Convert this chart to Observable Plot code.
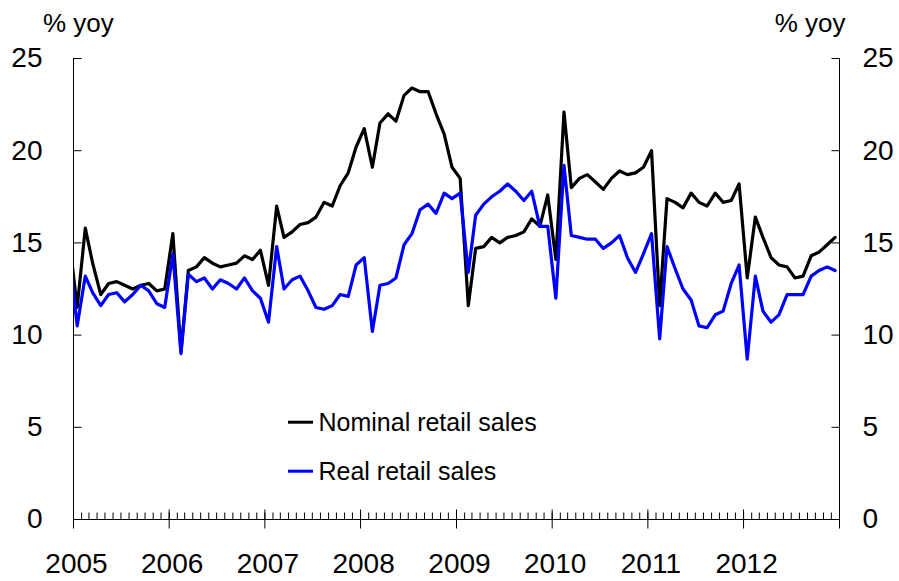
<!DOCTYPE html>
<html><head><meta charset="utf-8">
<script src="https://cdn.jsdelivr.net/npm/d3@7"></script>
<script src="https://cdn.jsdelivr.net/npm/@observablehq/plot@0.6"></script>
<style>body{margin:0;background:#fff} svg{display:block}</style>
</head><body><div id="chart"></div>
<script>
// Monthly data, Dec 2004 (clipped at left edge) through Dec 2012
const firstMonth = "2004-12-01";
const nominal = [
  15.3,
  11.5, 15.8, 13.9, 12.2, 12.8, 12.9, 12.7, 12.5, 12.7, 12.8, 12.4, 12.5,
  15.5, 9.1, 13.5, 13.7, 14.2, 13.9, 13.7, 13.8, 13.9, 14.3, 14.1, 14.6,
  12.7, 17.0, 15.3, 15.6, 16.0, 16.1, 16.4, 17.2, 17.0, 18.1, 18.8, 20.2,
  21.2, 19.1, 21.5, 22.0, 21.6, 23.0, 23.4, 23.2, 23.2, 22.0, 20.9, 19.1,
  18.5, 11.6, 14.7, 14.8, 15.3, 15.0, 15.3, 15.4, 15.6, 16.3, 15.9, 17.6,
  14.1, 22.1, 18.0, 18.5, 18.7, 18.3, 17.9, 18.5, 18.9, 18.7, 18.8, 19.1,
  20.0, 11.6, 17.4, 17.2, 16.9, 17.7, 17.2, 17.0, 17.7, 17.2, 17.3, 18.2,
  13.1, 16.4, 15.3, 14.2, 13.8, 13.7, 13.1, 13.2, 14.3, 14.5, 14.9, 15.3
];
const real = [
  14.4,
  10.5, 13.2, 12.3, 11.6, 12.2, 12.3, 11.8, 12.2, 12.7, 12.4, 11.7, 11.5,
  14.4, 9.0, 13.3, 12.9, 13.1, 12.5, 13.0, 12.8, 12.5, 13.1, 12.4, 12.0,
  10.7, 14.8, 12.5, 13.0, 13.2, 12.4, 11.5, 11.4, 11.6, 12.2, 12.1, 13.8,
  14.2, 10.2, 12.7, 12.8, 13.1, 14.9, 15.5, 16.8, 17.1, 16.6, 17.7, 17.4,
  17.7, 13.4, 16.5, 17.1, 17.5, 17.8, 18.2, 17.8, 17.3, 17.8, 15.9, 15.9,
  12.0, 19.2, 15.4, 15.3, 15.2, 15.2, 14.7, 15.0, 15.4, 14.2, 13.4, 14.4,
  15.5, 9.8, 14.8, 13.6, 12.5, 11.9, 10.5, 10.4, 11.1, 11.3, 12.8, 13.8,
  8.7, 13.2, 11.3, 10.7, 11.1, 12.2, 12.2, 12.2, 13.2, 13.5, 13.7, 13.5
];
const seriesNames = ["Nominal retail sales", "Real retail sales"];
const seriesColors = ["#000000", "#0000ff"];
const yTicks = [0, 5, 10, 15, 20, 25];
const yearLabels = ["2005", "2006", "2007", "2008", "2009", "2010", "2011", "2012"];
const yearTickYears = ["2005", "2006", "2007", "2008", "2009", "2010", "2011", "2012", "2013"];
const yLabel = "% yoy";

const xDomain = [new Date("2005-01-01"), new Date("2013-01-01")];
const months = d3.utcMonth.range(new Date(firstMonth), xDomain[1]);
const mid = (m) => d3.utcDay.offset(m, 14);
const nominalData = months.map((m, i) => ({date: mid(m), value: nominal[i]}));
const realData = months.map((m, i) => ({date: mid(m), value: real[i]}));
const yearDates = yearLabels.map((y) => new Date(y + "-01-01"));
const majorDates = yearTickYears.map((y) => new Date(y + "-01-01"));
const minorDates = d3.utcMonth.range(xDomain[0], xDomain[1]);

const font = "'Liberation Sans', Arial, sans-serif";
const tickOpts = {r: 0, anchor: "start", stroke: "black", strokeWidth: 1, strokeLinecap: "butt"};

const chart = Plot.plot({
  width: 899,
  height: 581,
  marginLeft: 73,
  marginRight: 60,
  marginTop: 58,
  marginBottom: 62,
  style: {fontFamily: font, fontSize: "28px", color: "black", background: "white"},
  x: {type: "utc", domain: xDomain, axis: null},
  y: {domain: [0, 25], axis: null},
  marks: [
    // axis lines
    Plot.ruleX(xDomain, {stroke: "black", strokeWidth: 1}),
    Plot.ruleY([0], {stroke: "black", strokeWidth: 1}),
    // y ticks (inward)
    Plot.vector(yTicks, {...tickOpts, y: (d) => d, frameAnchor: "left", rotate: 90, length: 8}),
    Plot.vector(yTicks, {...tickOpts, y: (d) => d, frameAnchor: "right", rotate: -90, length: 8}),
    // x ticks
    Plot.vector(minorDates, {...tickOpts, x: (d) => d, frameAnchor: "bottom", rotate: 0, length: 7}),
    Plot.vector(majorDates, {...tickOpts, x: (d) => d, frameAnchor: "bottom", rotate: 0, length: 10}),
    Plot.vector(majorDates, {...tickOpts, x: (d) => d, frameAnchor: "bottom", rotate: 180, length: 9}),
    // tick labels
    Plot.axisY({anchor: "left", label: null, ticks: yTicks, tickSize: 0, tickPadding: 31, fontSize: 28, tickFormat: (d) => d}),
    Plot.axisY({anchor: "right", label: null, ticks: yTicks, tickSize: 0, tickPadding: 23, fontSize: 28, tickFormat: (d) => d}),
    Plot.axisX({label: null, ticks: yearDates, tickFormat: "%Y", tickSize: 0, tickPadding: 34, fontSize: 28, dx: 3}),
    // y-axis unit labels
    Plot.text([yLabel], {frameAnchor: "top-left", textAnchor: "start", dx: -30.5, dy: -45, fontSize: 26}),
    Plot.text([yLabel], {frameAnchor: "top-right", textAnchor: "end", dx: 6, dy: -45, fontSize: 26}),
    // data lines
    Plot.line(nominalData, {x: "date", y: "value", stroke: seriesColors[0], strokeWidth: 3.2, clip: true}),
    Plot.line(realData, {x: "date", y: "value", stroke: seriesColors[1], strokeWidth: 3.2, clip: true}),
    // legend
    Plot.vector([seriesNames[0]], {r: 0, anchor: "start", frameAnchor: "bottom-left", dx: 214.5, dy: -97.3, rotate: 90, length: 25, stroke: seriesColors[0], strokeWidth: 3, strokeLinecap: "butt"}),
    Plot.text([seriesNames[0]], {text: (d) => d, frameAnchor: "bottom-left", textAnchor: "start", dx: 245, dy: -89, fontSize: 25}),
    Plot.vector([seriesNames[1]], {r: 0, anchor: "start", frameAnchor: "bottom-left", dx: 214.5, dy: -48.3, rotate: 90, length: 25, stroke: seriesColors[1], strokeWidth: 3, strokeLinecap: "butt"}),
    Plot.text([seriesNames[1]], {text: (d) => d, frameAnchor: "bottom-left", textAnchor: "start", dx: 245, dy: -39.3, fontSize: 25})
  ]
});
document.getElementById("chart").appendChild(chart);
</script>
</body></html>
